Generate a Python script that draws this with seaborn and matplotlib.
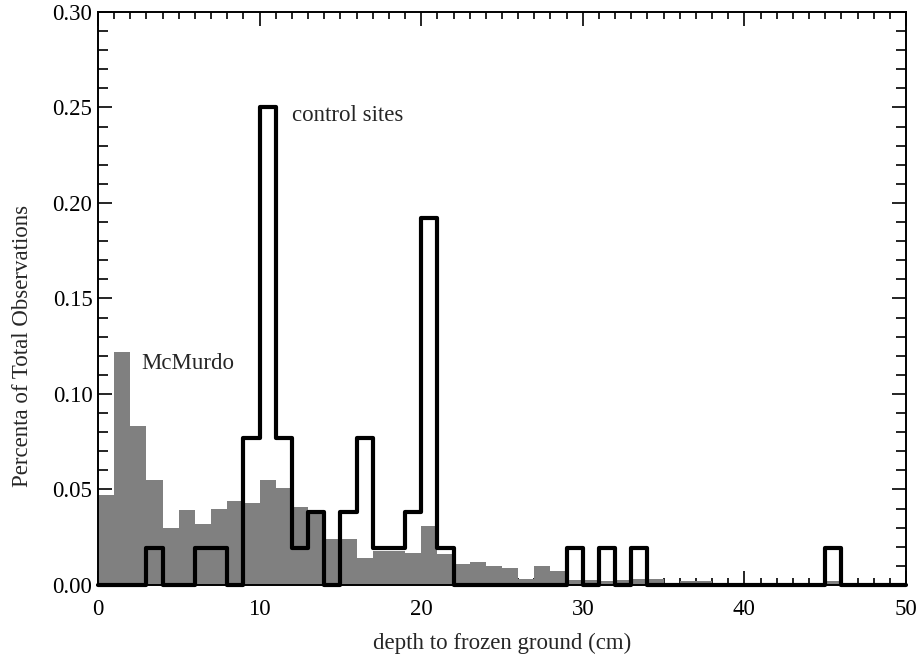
import numpy as np
import pandas as pd
import matplotlib
matplotlib.use("Agg")
import matplotlib.pyplot as plt
import seaborn as sns
from matplotlib.ticker import MultipleLocator

# ---- data (bin width 1 cm, bins 0..50) ----
bin_edges = list(range(0, 51))
bin_centers = [e + 0.5 for e in range(0, 50)]

mcmurdo = [0.047, 0.122, 0.083, 0.055, 0.030, 0.039, 0.032, 0.040, 0.044, 0.043,
           0.055, 0.051, 0.041, 0.037, 0.024, 0.024, 0.014, 0.018, 0.018, 0.017,
           0.031, 0.016, 0.011, 0.012, 0.010, 0.009, 0.003, 0.010, 0.0075, 0.0026,
           0.0026, 0.002, 0.0026, 0.003, 0.003, 0.0012, 0.002, 0.002, 0.001, 0.0005,
           0.0005, 0.0005, 0.001, 0.0005, 0.0005, 0.0023, 0.0, 0.0, 0.0, 0.0]

control_counts = [0, 0, 0, 1, 0, 0, 1, 1, 0, 4,
                  13, 4, 1, 2, 0, 2, 4, 1, 1, 2,
                  10, 1, 0, 0, 0, 0, 0, 0, 0, 1,
                  0, 1, 0, 1, 0, 0, 0, 0, 0, 0,
                  0, 0, 0, 0, 0, 1, 0, 0, 0, 0]
control = [c / 52.0 for c in control_counts]

x_ticks = [0, 10, 20, 30, 40, 50]
y_ticks = [0.00, 0.05, 0.10, 0.15, 0.20, 0.25, 0.30]

df = pd.DataFrame({"depth": bin_centers, "mcmurdo": mcmurdo, "control": control})

sns.set_style("ticks")
plt.rcParams["font.family"] = ["Liberation Serif", "DejaVu Serif"]
FS = 16.5
plt.rcParams["font.size"] = FS

fig = plt.figure(figsize=(9.2, 6.64), dpi=100)
ax = fig.add_axes([0.1065, 0.119, 0.8783, 0.863])

sns.histplot(data=df, x="depth", weights="mcmurdo", bins=bin_edges,
             element="bars", stat="count", color="#808080", alpha=1.0,
             edgecolor="none", linewidth=0, ax=ax, zorder=1)
sns.histplot(data=df, x="depth", weights="control", bins=bin_edges,
             element="step", fill=False, stat="count", color="black",
             linewidth=3.0, ax=ax, zorder=3, clip_on=False)

ax.set_xlim(0, 50)
ax.set_ylim(0, 0.30)
ax.set_xticks(x_ticks)
ax.set_xticklabels([str(t) for t in x_ticks])
ax.set_yticks(y_ticks)
ax.set_yticklabels([f"{t:.2f}" for t in y_ticks])
ax.xaxis.set_minor_locator(MultipleLocator(1))
ax.yaxis.set_minor_locator(MultipleLocator(0.01))
ax.tick_params(axis="both", which="both", direction="in", top=True, right=True,
               colors="black", labelsize=FS, width=1.2)
ax.tick_params(axis="x", which="major", length=10, pad=10)
ax.tick_params(axis="x", which="minor", length=5)
ax.tick_params(axis="y", which="major", length=10, pad=4)
ax.tick_params(axis="y", which="minor", length=7)
for s in ax.spines.values():
    s.set_linewidth(1.4)
    s.set_color("black")
    s.set_visible(True)

ax.set_xlabel("depth to frozen ground (cm)", fontsize=FS, labelpad=9)
ax.set_ylabel("Percenta of Total Observations", fontsize=FS)
ax.yaxis.set_label_coords(-0.081, 0.417)

ax.text(2.7, 0.1157, "McMurdo", fontsize=FS, va="center", ha="left")
ax.text(12.0, 0.246, "control sites", fontsize=FS, va="center", ha="left")

fig.savefig("out.png", dpi=100)
